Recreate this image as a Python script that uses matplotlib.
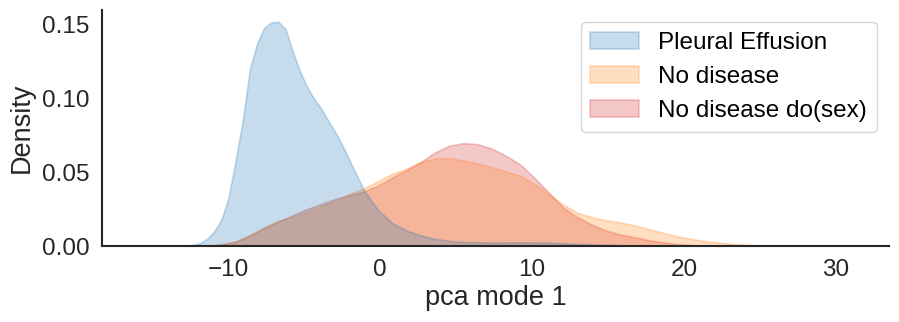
import matplotlib
matplotlib.use("Agg")
import matplotlib.pyplot as plt

plt.rcParams['font.family'] = ['Liberation Sans', 'DejaVu Sans']

labels = ["Pleural Effusion", "No disease", "No disease do(sex)"]
colors = ["#1f77b4", "#ff7f0e", "#d62728"]

x_pe = [-13.26, -12.32, -11.85, -11.38, -10.91, -10.44, -9.97, -9.51, -9.04, -8.57,
        -8.10, -7.63, -7.16, -6.69, -6.22, -5.76, -5.29, -4.82, -4.35, -3.88,
        -3.41, -2.94, -2.47, -2.01, -1.54, -1.07, -0.60, -0.13, 0.81, 1.75,
        2.68, 3.62, 4.56, 5.50, 7.37, 9.25, 11.12, 13.0, 14.87, 16.75, 18.62, 20.5]
y_pe = [0, 0.0007, 0.002, 0.005, 0.010, 0.018, 0.033, 0.058, 0.085, 0.120, 0.137,
        0.148, 0.1515, 0.152, 0.147, 0.132, 0.119, 0.108, 0.100, 0.093, 0.085,
        0.077, 0.068, 0.058, 0.048, 0.038, 0.031, 0.0245, 0.0155, 0.0105, 0.0072,
        0.0049, 0.0035, 0.0027, 0.0024, 0.0025, 0.0024, 0.0015, 0.0008, 0.0003,
        0.0001, 0]

x_nd = [-12.32, -11.38, -10.44, -9.51, -8.57, -7.63, -6.69, -5.76, -4.82, -3.88,
        -2.94, -2.01, -1.07, -0.13, 0.81, 1.75, 2.68, 3.62, 4.56, 5.50,
        6.43, 7.37, 8.31, 9.25, 10.18, 11.12, 12.06, 13.0, 13.93, 14.87,
        15.81, 16.75, 17.68, 18.62, 19.56, 20.5, 21.43, 22.37, 23.31, 24.25,
        25.18, 26.12, 27.06]
y_nd = [0, 0.0005, 0.0013, 0.003, 0.0075, 0.013, 0.017, 0.0198, 0.023, 0.027,
        0.0305, 0.0355, 0.039, 0.044, 0.049, 0.0525, 0.057, 0.0593, 0.0595, 0.058,
        0.056, 0.0535, 0.0505, 0.0475, 0.042, 0.035, 0.028, 0.0225, 0.0195, 0.0175,
        0.016, 0.014, 0.0115, 0.009, 0.0065, 0.0048, 0.0033, 0.0022, 0.0013, 0.0008,
        0.0004, 0.0001, 0]

x_ds = [-11.38, -10.44, -9.51, -8.57, -7.63, -6.69, -5.76, -4.82, -3.88, -2.94,
        -2.01, -1.07, -0.13, 0.81, 1.75, 2.68, 3.62, 4.56, 5.50, 6.43,
        7.37, 8.31, 9.25, 10.18, 11.12, 12.06, 13.0, 13.93, 14.87, 15.81,
        16.75, 17.68, 18.62, 19.56, 20.5, 21.43, 22.37]
y_ds = [0, 0.001, 0.003, 0.007, 0.012, 0.0167, 0.0208, 0.025, 0.0285, 0.032,
        0.0345, 0.037, 0.041, 0.0465, 0.0515, 0.057, 0.0635, 0.068, 0.0698, 0.069,
        0.066, 0.061, 0.055, 0.046, 0.036, 0.026, 0.0195, 0.0145, 0.0105, 0.0078,
        0.006, 0.004, 0.0025, 0.0013, 0.0006, 0.0002, 0]

fig = plt.figure(figsize=(8.99, 3.22), dpi=100)
ax = fig.add_axes([0.1135, 0.236, 0.8755, 0.733])

series = [(x_pe, y_pe), (x_nd, y_nd), (x_ds, y_ds)]
handles = [None] * 3
for i in [2, 1, 0]:
    xs, ys = series[i]
    h = ax.fill_between(xs, 0, ys, facecolor=colors[i], edgecolor=colors[i],
                        alpha=0.25, linewidth=1.2, label=labels[i])
    handles[i] = h

ax.set_xlim(-18.3, 33.5)
ax.set_ylim(0, 0.160)
ax.set_xticks([-10, 0, 10, 20, 30])
ax.set_yticks([0.0, 0.05, 0.10, 0.15])
ax.set_yticklabels(["0.00", "0.05", "0.10", "0.15"])
ax.tick_params(axis='both', length=0, labelsize=17.5, pad=9, colors='#262626')
for s in ['top', 'right']:
    ax.spines[s].set_visible(False)
for s in ['left', 'bottom']:
    ax.spines[s].set_color('#262626')
    ax.spines[s].set_linewidth(1.5)
ax.set_xlabel("pca mode 1", fontsize=19.5, color='#262626', labelpad=3)
ax.set_ylabel("Density", fontsize=19.5, color='#262626', labelpad=5)

leg = ax.legend(handles=handles, labels=labels, loc='upper right', fontsize=17.5,
                frameon=True, fancybox=True, edgecolor='#cccccc',
                handlelength=2.0, handletextpad=0.8, labelspacing=0.5)
leg.get_frame().set_linewidth(1.0)

fig.savefig("out.png", dpi=100)
